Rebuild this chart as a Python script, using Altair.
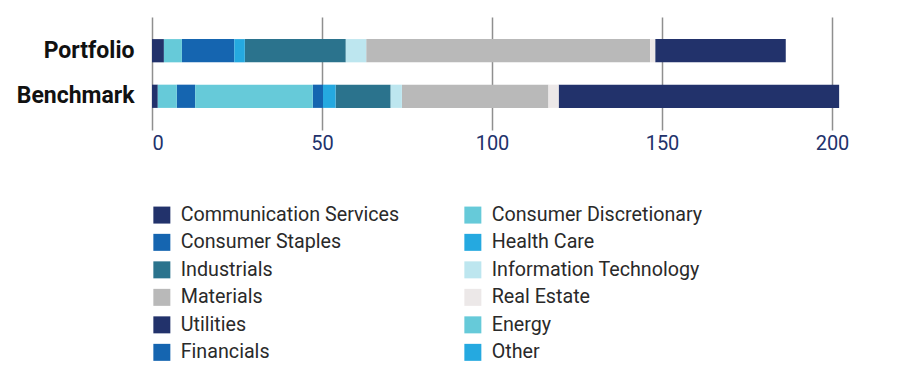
import altair as alt
import pandas as pd

# Sector names in legend order (left column top to bottom, then right column)
sectors = [
    "Communication Services", "Consumer Staples", "Industrials",
    "Materials", "Utilities", "Financials",
    "Consumer Discretionary", "Health Care", "Information Technology",
    "Real Estate", "Energy", "Other",
]
colors = [
    "#22326b", "#1565b0", "#2b738d",
    "#b9b9b9", "#22326b", "#1565b0",
    "#66cad9", "#25a9e0", "#bde6ef",
    "#ece8e8", "#66cad9", "#25a9e0",
]
# Values, same order as sectors
portfolio = [3.5, 15.4, 29.7, 83.5, 38.4, 0.0, 5.3, 3.1, 6.0, 1.5, 0.0, 0.0]
benchmark = [1.7, 5.4, 16.2, 43.1, 82.5, 3.0, 5.6, 3.7, 3.3, 3.0, 34.6, 0.0]
groups = ["Portfolio", "Benchmark"]

# stacking order is alphabetical
alpha = sorted(sectors)
rows = []
for g, vals in zip(groups, [portfolio, benchmark]):
    for s, v in zip(sectors, vals):
        rows.append({"group": g, "sector": s, "value": v, "ord": alpha.index(s)})
df = pd.DataFrame(rows)

chart = alt.Chart(df).mark_bar().encode(
    y=alt.Y("group:N", sort=groups, title=None,
            scale=alt.Scale(paddingInner=0.49, paddingOuter=0.485),
            axis=alt.Axis(domain=False, ticks=False, labelFont="Roboto",
                          labelFontSize=23, labelFontWeight="bold",
                          labelColor="#111111", labelPadding=18)),
    x=alt.X("value:Q", stack="zero", title=None,
            scale=alt.Scale(domain=[0, 205], nice=False),
            axis=alt.Axis(values=[0, 50, 100, 150, 200], domain=False, ticks=False,
                          grid=True, gridColor="#8f8f8f", gridWidth=1.5,
                          labelFont="Roboto", labelFontSize=20,
                          labelColor="#22326b", labelPadding=3)),
    color=alt.Color("sector:N",
                    scale=alt.Scale(domain=sectors, range=colors),
                    legend=alt.Legend(title=None, orient="none", legendX=0, legendY=188,
                                      columns=2, columnPadding=63, rowPadding=6.5,
                                      symbolType="square", symbolSize=289,
                                      symbolStrokeWidth=0, labelOffset=9,
                                      labelFont="Roboto", labelFontSize=19.7,
                                      labelColor="#2a2a2a", labelLimit=400)),
    order=alt.Order("ord:Q"),
).properties(
    width=697, height=113,
    autosize=alt.AutoSizeParams(type="none"),
    padding={"left": 144, "top": 9, "right": 10, "bottom": 236},
).configure_view(stroke=None)

chart.save("out.html", embed_options={"renderer": "svg", "actions": False})
